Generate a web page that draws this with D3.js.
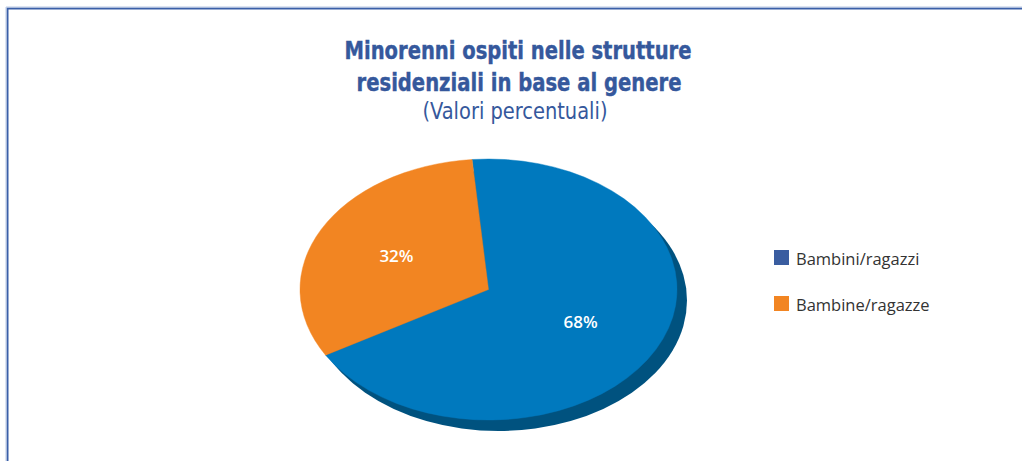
<!DOCTYPE html>
<html>
<head>
<meta charset="utf-8">
<script src="https://cdn.jsdelivr.net/npm/d3@7"></script>
<style>
  body { margin: 0; background: #fff; }
  svg { display: block; }
</style>
</head>
<body>
<div id="chart"></div>
<script>
// dati
const categories = ['Bambini/ragazzi', 'Bambine/ragazze']
const values = [68, 32]
const labels = ['68%', '32%']
const titleLines = ['Minorenni ospiti nelle strutture', 'residenziali in base al genere']
const subtitle = '(Valori percentuali)'

const sliceColors = ['#0079be', '#f28522']
const legendColors = ['#3a5da0', '#f28522']

const width = 1022, height = 461
const svg = d3.select('#chart').append('svg')
    .attr('width', width)
    .attr('height', height)

// cornice
svg.append('path')
    .attr('d', `M7.5,${height} V8.5 H${width + 2}`)
    .attr('fill', 'none')
    .attr('stroke', '#3a5fa8')
    .attr('stroke-width', 2)
    .attr('stroke-linejoin', 'miter')
svg.append('path')
    .attr('d', `M6,${height} V7 H${width + 2}`)
    .attr('fill', 'none')
    .attr('stroke', '#b9c8e4')
    .attr('stroke-width', 1)
    .attr('stroke-linejoin', 'miter')

// titolo
const condensed = "'Liberation Sans Narrow', 'DejaVu Sans Condensed', 'Open Sans', sans-serif"
const title = svg.append('g').attr('fill', '#35589c')
title.append('text')
    .attr('x', 518).attr('y', 59)
    .attr('text-anchor', 'middle')
    .attr('font-family', condensed)
    .attr('font-weight', 'bold')
    .attr('font-size', 25)
    .attr('stroke', '#35589c')
    .attr('stroke-width', 0.4)
    .attr('textLength', 347)
    .attr('lengthAdjust', 'spacingAndGlyphs')
    .text(titleLines[0])
title.append('text')
    .attr('x', 519).attr('y', 91)
    .attr('text-anchor', 'middle')
    .attr('font-family', condensed)
    .attr('font-weight', 'bold')
    .attr('font-size', 25)
    .attr('stroke', '#35589c')
    .attr('stroke-width', 0.4)
    .attr('textLength', 325)
    .attr('lengthAdjust', 'spacingAndGlyphs')
    .text(titleLines[1])
title.append('text')
    .attr('x', 515).attr('y', 119)
    .attr('text-anchor', 'middle')
    .attr('font-family', condensed)
    .attr('font-size', 23)
    .attr('textLength', 185)
    .attr('lengthAdjust', 'spacingAndGlyphs')
    .text(subtitle)

// torta (ellisse)
const cx = 488.5, cy = 289.5, rx = 188.5, ry = 130.5
const depthX = 10, depthY = 11

const pie = d3.pie()
    .sort(null)
    .startAngle(-5 * Math.PI / 180)
    .endAngle(355 * Math.PI / 180)
const arcs = pie(values)

const arc = d3.arc().innerRadius(0).outerRadius(rx)
const labelArc = d3.arc().innerRadius(rx * 0.55).outerRadius(rx * 0.55)

// lato scuro
svg.append('ellipse')
    .attr('cx', cx + depthX).attr('cy', cy + depthY)
    .attr('rx', rx).attr('ry', ry)
    .attr('fill', '#00527f')

const pieG = svg.append('g')
    .attr('transform', `translate(${cx},${cy}) scale(1,${ry / rx})`)
pieG.selectAll('path')
    .data(arcs)
    .join('path')
    .attr('d', arc)
    .attr('fill', (d, i) => sliceColors[i])
    .attr('stroke', (d, i) => sliceColors[i])
    .attr('stroke-width', 0.5)

svg.append('g')
    .selectAll('text')
    .data(arcs)
    .join('text')
    .attr('x', d => cx + labelArc.centroid(d)[0])
    .attr('y', d => cy + labelArc.centroid(d)[1] * ry / rx)
    .attr('dy', '0.35em')
    .attr('text-anchor', 'middle')
    .attr('font-family', "'Open Sans', sans-serif")
    .attr('font-weight', 600)
    .attr('font-size', 17)
    .attr('fill', '#fff')
    .text((d, i) => labels[i])

// legenda
const legend = svg.append('g').attr('transform', 'translate(774,250)')
const items = legend.selectAll('g')
    .data(categories)
    .join('g')
    .attr('transform', (d, i) => `translate(0,${i * 46})`)
items.append('rect')
    .attr('width', 15).attr('height', 15)
    .attr('fill', (d, i) => legendColors[i])
items.append('text')
    .attr('x', 22).attr('y', 15)
    .attr('font-family', "'Open Sans', sans-serif")
    .attr('font-size', 16.5)
    .attr('fill', '#333')
    .text(d => d)
</script>
</body>
</html>
